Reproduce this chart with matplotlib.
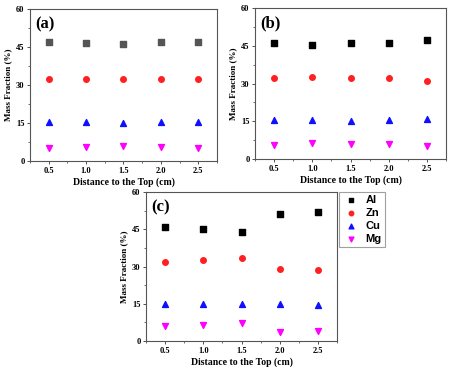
import matplotlib
matplotlib.use('Agg')
import matplotlib.pyplot as plt
from matplotlib.ticker import MultipleLocator

# distance from the top (cm)
distance = [0.5, 1.0, 1.5, 2.0, 2.5]

# mass fractions (%) for each panel
al_a = [46.8, 46.5, 46.2, 46.8, 46.8]
zn_a = [32.3, 32.3, 32.3, 32.3, 32.3]
cu_a = [15.2, 15.2, 15.1, 15.2, 15.2]
mg_a = [5.2, 5.5, 5.9, 5.4, 5.2]

al_b = [46.0, 45.4, 46.1, 46.1, 47.4]
zn_b = [32.1, 32.4, 32.0, 32.0, 30.8]
cu_b = [15.3, 15.3, 15.0, 15.3, 15.9]
mg_b = [5.7, 6.2, 6.0, 5.8, 5.2]

al_c = [46.1, 45.0, 43.9, 51.3, 51.8]
zn_c = [32.0, 32.7, 33.3, 29.0, 28.6]
cu_c = [15.0, 15.1, 14.7, 14.7, 14.6]
mg_c = [6.0, 6.3, 7.1, 3.7, 3.9]

panels = [('(a)', al_a, zn_a, cu_a, mg_a, '#555555'),
          ('(b)', al_b, zn_b, cu_b, mg_b, 'black'),
          ('(c)', al_c, zn_c, cu_c, mg_c, 'black')]

W, H = 451, 367
fig = plt.figure(figsize=(W / 100, H / 100), dpi=100)

# axes boxes in pixels: left, top, right, bottom
boxes = [(30, 9, 217, 161), (255, 8, 446, 159), (146, 192, 337, 341)]

serif = 'Liberation Serif'
for (label, al, zn, cu, mg, alc), (l, t, r, b) in zip(panels, boxes):
    ax = fig.add_axes([l / W, 1 - b / H, (r - l) / W, (b - t) / H])
    ax.scatter(distance, al, marker='s', s=14, color=alc, label='Al', zorder=3)
    ax.scatter(distance, zn, marker='o', s=16, color='#ff2020', label='Zn', zorder=3)
    ax.scatter(distance, cu, marker='^', s=18, color='#1010ff', label='Cu', zorder=3)
    ax.scatter(distance, mg, marker='v', s=18, color='#ff00ff', label='Mg', zorder=3)
    ax.set_xlim(0.25, 2.75)
    ax.set_ylim(0, 60)
    ax.set_xticks(distance)
    ax.set_yticks([0, 15, 30, 45, 60])
    ax.xaxis.set_minor_locator(MultipleLocator(0.25))
    ax.yaxis.set_minor_locator(MultipleLocator(7.5))
    ax.tick_params(which='major', direction='out', length=2.5, width=0.6,
                   labelsize=6, pad=1.5, colors='#333333')
    ax.tick_params(which='minor', direction='out', length=1.5, width=0.5, colors='#333333')
    for lab in ax.get_xticklabels() + ax.get_yticklabels():
        lab.set_fontfamily(serif)
        lab.set_fontweight('bold')
        lab.set_color('black')
    for sp in ax.spines.values():
        sp.set_color('#555555')
        sp.set_linewidth(0.8)
    ax.set_xlabel('Distance to the Top (cm)', fontsize=7, fontfamily=serif,
                  fontweight='bold', labelpad=2)
    ax.set_ylabel('Mass Fraction (%)', fontsize=6.5, fontfamily=serif,
                  fontweight='bold', labelpad=3)
    ax.text(0.03, 0.95, label, transform=ax.transAxes, fontsize=12,
            fontfamily=serif, fontweight='bold', va='top', ha='left')
    last = ax

leg = last.legend(loc='upper left', frameon=True, fancybox=False, borderaxespad=0,
                  handletextpad=0.6, labelspacing=0.25, borderpad=0.3,
                  handlelength=1.5, markerscale=0.8,
                  prop={'family': 'Liberation Sans', 'weight': 'bold', 'size': 8})
leg.set_bbox_to_anchor((339 / W, 1 - 192 / H), transform=fig.transFigure)
leg.get_frame().set_edgecolor('#888888')
leg.get_frame().set_linewidth(0.8)

fig.savefig('out.png', dpi=100)
